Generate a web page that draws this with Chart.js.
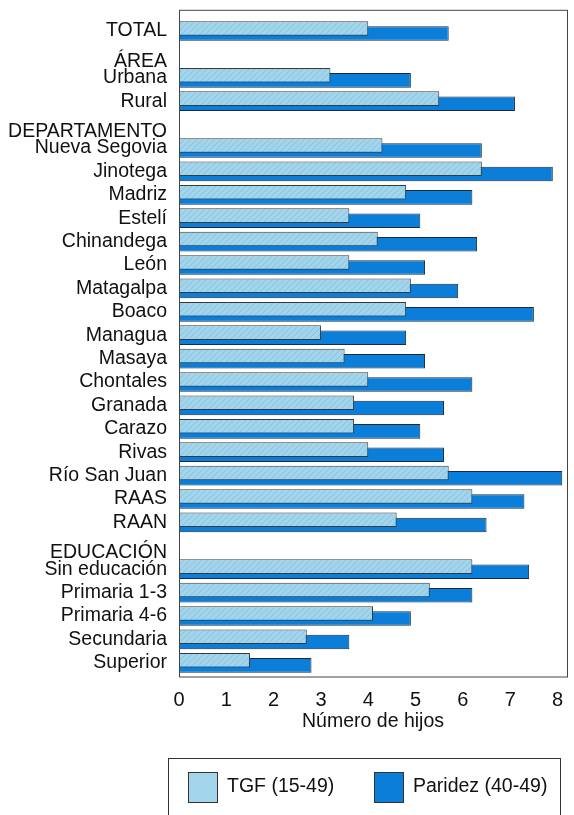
<!DOCTYPE html>
<html>
<head>
<meta charset="utf-8">
<script src="https://cdn.jsdelivr.net/npm/chart.js@4.4.1/dist/chart.umd.min.js"></script>
<style>
  html, body { margin: 0; padding: 0; background: #fff; }
  #wrap { width: 574px; height: 815px; }
</style>
</head>
<body>
<div id="wrap"><canvas id="grafico" width="574" height="815"></canvas></div>
<script>
// datos
const categorias = ['TOTAL', 'ÁREA', 'Urbana', 'Rural', 'DEPARTAMENTO', 'Nueva Segovia', 'Jinotega', 'Madriz', 'Estelí',
    'Chinandega', 'León', 'Matagalpa', 'Boaco', 'Managua', 'Masaya', 'Chontales', 'Granada', 'Carazo', 'Rivas',
    'Río San Juan', 'RAAS', 'RAAN', 'EDUCACIÓN', 'Sin educación', 'Primaria 1-3', 'Primaria 4-6', 'Secundaria', 'Superior'];
const encabezados = ['ÁREA', 'DEPARTAMENTO', 'EDUCACIÓN'];
const tgf = [4.0, null, 3.2, 5.5, null, 4.3, 6.4, 4.8, 3.6, 4.2, 3.6, 4.9, 4.8, 3.0, 3.5, 4.0, 3.7, 3.7, 4.0,
    5.7, 6.2, 4.6, null, 6.2, 5.3, 4.1, 2.7, 1.5];
const paridez = [5.7, null, 4.9, 7.1, null, 6.4, 7.9, 6.2, 5.1, 6.3, 5.2, 5.9, 7.5, 4.8, 5.2, 6.2, 5.6, 5.1, 5.6,
    8.1, 7.3, 6.5, null, 7.4, 6.2, 4.9, 3.6, 2.8];
const nombresSeries = ['TGF (15-49)', 'Paridez (40-49)'];
const ticksX = [0, 1, 2, 3, 4, 5, 6, 7, 8];

const fuente = '"Liberation Sans", Arial, sans-serif';
const colorClaro = '#a2d5eb';
const colorOscuro = '#0a7ed8';

function patronRayado() {
    const c = document.createElement('canvas');
    c.width = 6; c.height = 6;
    const g = c.getContext('2d');
    g.fillStyle = colorClaro;
    g.fillRect(0, 0, 6, 6);
    g.strokeStyle = '#86c3de';
    g.lineWidth = 1;
    g.beginPath();
    g.moveTo(0, 6); g.lineTo(6, 0);
    g.moveTo(-3, 3); g.lineTo(3, -3);
    g.moveTo(3, 9); g.lineTo(9, 3);
    g.stroke();
    return g.createPattern(c, 'repeat');
}

// marco del area de grafico
const marco = {
    id: 'marco',
    afterDatasetsDraw(chart) {
        const {ctx, chartArea} = chart;
        ctx.save();
        ctx.strokeStyle = '#444';
        ctx.lineWidth = 1;
        ctx.strokeRect(chartArea.left + 0.5, chartArea.top - 9, chartArea.right - chartArea.left, chartArea.bottom - chartArea.top + 11.5);
        ctx.restore();
    }
};

// leyenda dibujada a mano (recuadro abajo)
const leyenda = {
    id: 'leyenda',
    afterDraw(chart) {
        const ctx = chart.ctx;
        ctx.save();
        ctx.strokeStyle = '#333';
        ctx.lineWidth = 1;
        ctx.strokeRect(168.5, 758.5, 392, 80);
        const items = [
            {x: 188, color: colorClaro},
            {x: 374, color: colorOscuro}
        ];
        ctx.font = '19.5px ' + fuente;
        ctx.textBaseline = 'middle';
        items.forEach((it, i) => {
            ctx.fillStyle = it.color;
            ctx.fillRect(it.x, 772, 29, 30);
            ctx.strokeStyle = '#333';
            ctx.strokeRect(it.x + 0.5, 772.5, 29, 30);
            ctx.fillStyle = '#111';
            ctx.fillText(chart.data.datasets[i].label, it.x + 39, 787);
        });
        ctx.restore();
    }
};

const ctx = document.getElementById('grafico').getContext('2d');

new Chart(ctx, {
    type: 'bar',
    data: {
        labels: categorias.map(c => encabezados.includes(c) ? ['', c] : c),
        datasets: [{
            label: nombresSeries[0],
            data: tgf,
            backgroundColor: patronRayado(),
            borderColor: '#3a3a3a',
            borderWidth: 1,
            borderSkipped: false
        }, {
            label: nombresSeries[1],
            data: paridez,
            backgroundColor: colorOscuro,
            borderColor: '#1c2a3c',
            borderWidth: 1,
            borderSkipped: false
        }]
    },
    options: {
        indexAxis: 'y',
        responsive: false,
        animation: false,
        categoryPercentage: 0.444,
        barPercentage: 2.8,
        layout: {
            padding: {left: 0, right: 7, top: 19.3, bottom: 78.5}
        },
        plugins: {
            legend: {display: false},
            tooltip: {enabled: false}
        },
        scales: {
            x: {
                type: 'linear',
                min: 0,
                max: 8.2,
                afterFit: (scale) => {
                    scale.height = 62;
                    scale.paddingLeft = 0;
                    scale.paddingRight = 0;
                },
                afterBuildTicks: (scale) => { scale.ticks = ticksX.map(v => ({value: v})); },
                grid: {display: false, drawTicks: false},
                border: {display: false},
                ticks: {
                    padding: 14,
                    color: '#111',
                    font: {family: fuente, size: 20}
                },
                title: {
                    display: true,
                    text: 'Número de hijos',
                    color: '#111',
                    font: {family: fuente, size: 19.5},
                    padding: {top: 0, bottom: 3}
                }
            },
            y: {
                afterFit: (scale) => {
                    scale.width = 179;
                    scale.paddingTop = 0;
                    scale.paddingBottom = 0;
                },
                grid: {display: false, drawTicks: false},
                border: {display: false},
                ticks: {
                    padding: 12,
                    color: '#111',
                    autoSkip: false,
                    font: (c) => {
                        const esEnc = encabezados.includes(categorias[c.index]);
                        return {family: fuente, size: 19.5, lineHeight: esEnc ? '14px' : 1.2};
                    }
                }
            }
        }
    },
    plugins: [marco, leyenda]
});
</script>
</body>
</html>
